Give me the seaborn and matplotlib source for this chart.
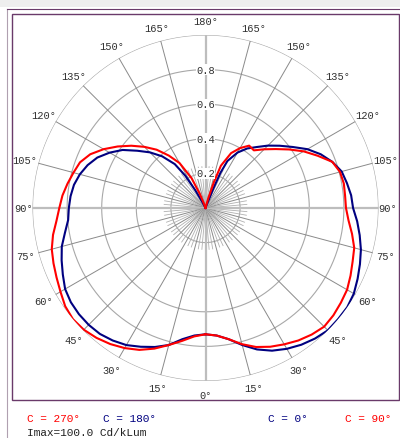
import numpy as np
import pandas as pd
import seaborn as sns
import matplotlib.pyplot as plt
from matplotlib.lines import Line2D

# polar intensity curves, angle (deg from nadir) and relative intensity
ang_c0 = [0, 5, 10, 15, 20, 25, 30, 35, 40, 45, 50, 55, 60, 65, 70, 75, 80, 85, 90, 95,
          100, 105, 110, 115, 120, 125, 130, 135, 140, 145, 150, 155, 157, 158, 160, 170, 180]
r_c0 = [0.73, 0.74, 0.77, 0.82, 0.87, 0.91, 0.94, 0.965, 0.985, 1.0, 1.0, 1.0, 0.99, 0.97, 0.95,
        0.93, 0.905, 0.88, 0.853, 0.845, 0.83, 0.815, 0.78, 0.735, 0.68, 0.615, 0.56, 0.51, 0.46,
        0.42, 0.37, 0.30, 0.22, 0.12, 0.02, 0.0, 0.0]

ang_c90 = [0, 5, 10, 15, 20, 25, 30, 35, 40, 45, 50, 55, 60, 65, 70, 75, 80, 85, 90, 95,
           100, 105, 110, 115, 120, 125, 130, 135, 140, 145, 150, 155, 160, 162, 164, 166, 180]
r_c90 = [0.73, 0.74, 0.77, 0.815, 0.855, 0.885, 0.91, 0.935, 0.955, 0.97, 0.965, 0.955, 0.945,
         0.925, 0.905, 0.89, 0.86, 0.83, 0.812, 0.81, 0.812, 0.805, 0.78, 0.715, 0.655, 0.59,
         0.53, 0.48, 0.435, 0.44, 0.40, 0.35, 0.26, 0.16, 0.06, 0.01, 0.0]

ang_c180 = [0, 5, 10, 15, 20, 25, 30, 35, 40, 45, 50, 55, 60, 65, 70, 75, 80, 85, 90, 95,
            100, 105, 110, 115, 120, 125, 130, 135, 140, 145, 148, 150, 152, 155, 180]
r_c180 = [0.73, 0.74, 0.77, 0.82, 0.855, 0.885, 0.915, 0.935, 0.95, 0.955, 0.955, 0.95, 0.937,
          0.91, 0.885, 0.86, 0.825, 0.797, 0.79, 0.783, 0.772, 0.752, 0.725, 0.69, 0.64, 0.585,
          0.515, 0.455, 0.39, 0.31, 0.22, 0.12, 0.04, 0.0, 0.0]

ang_c270 = [0, 5, 10, 15, 20, 25, 30, 35, 40, 45, 50, 55, 60, 65, 70, 75, 80, 85, 90, 95,
            100, 105, 110, 115, 120, 125, 130, 135, 140, 145, 150, 155, 158, 160, 165, 180]
r_c270 = [0.73, 0.745, 0.78, 0.82, 0.865, 0.905, 0.935, 0.96, 0.98, 0.995, 1.0, 0.99, 0.968,
          0.95, 0.935, 0.92, 0.895, 0.865, 0.845, 0.83, 0.81, 0.79, 0.772, 0.735, 0.68, 0.62,
          0.56, 0.50, 0.44, 0.37, 0.30, 0.19, 0.09, 0.03, 0.0, 0.0]

ring_labels = [0.2, 0.4, 0.6, 0.8]
angle_ticks = list(range(0, 181, 15))

RED = "#ff0000"
NAVY = "#000080"
MONO = "Liberation Mono"

frames = []
for name, ang, r, side in [("C0", ang_c0, r_c0, 1), ("C90", ang_c90, r_c90, 1),
                           ("C180", ang_c180, r_c180, -1), ("C270", ang_c270, r_c270, -1)]:
    frames.append(pd.DataFrame({"theta": np.radians(ang) * side, "r": r, "plane": name}))
df = pd.concat(frames, ignore_index=True)

fig = plt.figure(figsize=(4.0, 4.39), dpi=100)
W, H = 400, 439
cx, cy, R = 205.5, 209, 173
ax = fig.add_axes([(cx - R) / W, (H - cy - R) / H, 2 * R / W, 2 * R / H], projection="polar")
ax.set_theta_zero_location("S")
ax.set_theta_direction(1)
ax.set_ylim(0, 1.0)
ax.grid(False)
ax.set_xticks([])
ax.set_yticks([])
ax.spines["polar"].set_visible(False)
ax.patch.set_alpha(0)

# grid: rings
tt = np.linspace(0, 2 * np.pi, 721)
for rr in [0.2, 0.4, 0.6, 0.8, 1.0]:
    ax.plot(tt, np.full_like(tt, rr), color="#a8a8a8", lw=0.8, zorder=1)
# grid: spokes
for a in range(0, 360, 5):
    th = np.radians(a)
    if a % 90 == 0:
        ax.plot([th, th], [0, 1.0], color="#bdbdbd", lw=1.6, zorder=1)
    elif a % 15 == 0:
        ax.plot([th, th], [0, 1.0], color="#8a8a8a", lw=0.7, zorder=1)
    else:
        ax.plot([th, th], [0, 0.24], color="#b0b0b0", lw=0.6, zorder=1)

sns.lineplot(data=df, x="theta", y="r", hue="plane", sort=False, estimator=None,
             palette={"C0": NAVY, "C90": RED, "C180": NAVY, "C270": RED},
             hue_order=["C180", "C0", "C270", "C90"], lw=1.5, legend=False, ax=ax, zorder=3)
ax.set_xlabel("")
ax.set_ylabel("")

for v in ring_labels:
    ax.text(np.pi, v, f"{v:.1f}", ha="center", va="center", fontsize=7.5, family=MONO,
            color="#303030", zorder=4,
            bbox=dict(boxstyle="square,pad=0.05", fc="white", ec="none"))

for a in angle_ticks:
    rad = 1.05 if a == 90 else 1.08
    for side in ([1] if a in (0, 180) else [1, -1]):
        ax.text(np.radians(a) * side, rad, f"{a}°", ha="center", va="center",
                fontsize=7.5, family=MONO, color="#303030")

# frame
fig.add_artist(Line2D([7 / W, 7 / W], [0, 1 - 10 / H], color="#b0a0b0", lw=0.8))
fig.add_artist(Line2D([7 / W, 399.5 / W], [1 - 10 / H, 1 - 10 / H], color="#6a3a6a", lw=0.8))
fig.add_artist(plt.Rectangle((12 / W, 1 - 401 / H), 387 / W, 386 / H, transform=fig.transFigure,
                             fill=False, ec="#6a3a6a", lw=1.0))
fig.add_artist(plt.Rectangle((0, 1 - 8 / H), 1, 8 / H, transform=fig.transFigure,
                             fc="#eeeeee", ec="none"))

# plane legend
ty = 1 - 419 / H
fig.text(27 / W, ty, "C = 270°", color=RED, fontsize=8, family=MONO, va="center")
fig.text(103 / W, ty, "C = 180°", color=NAVY, fontsize=8, family=MONO, va="center")
fig.text(268 / W, ty, "C = 0°", color=NAVY, fontsize=8, family=MONO, va="center")
fig.text(345 / W, ty, "C = 90°", color=RED, fontsize=8, family=MONO, va="center")
fig.text(27 / W, 1 - 433 / H, "Imax=100.0 Cd/kLum", color="#202020", fontsize=8,
         family=MONO, va="center")

fig.savefig("out.png", dpi=100)
